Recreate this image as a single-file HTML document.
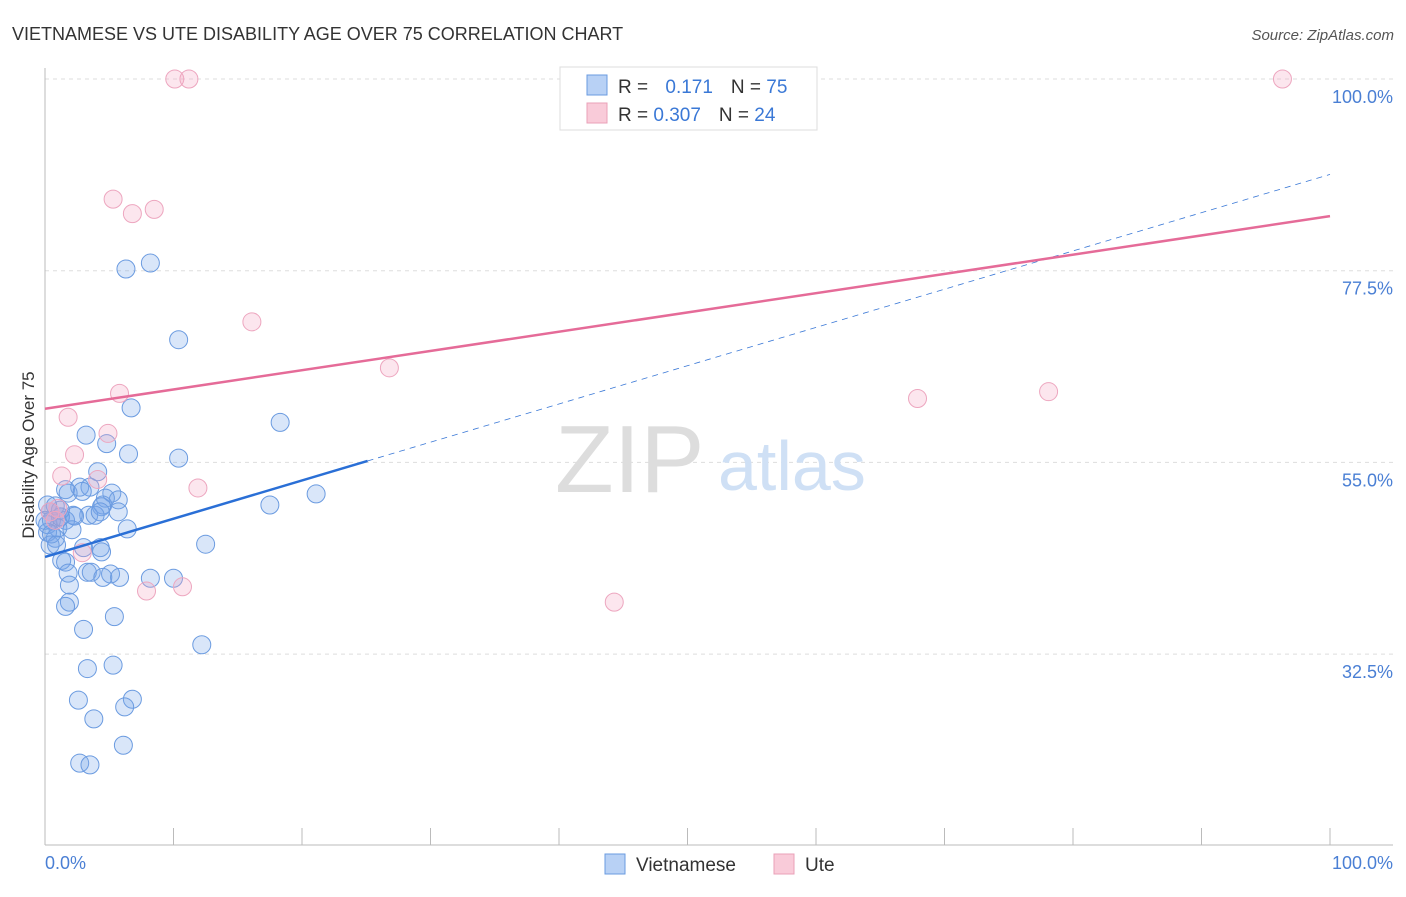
<!DOCTYPE html>
<html><head><meta charset="utf-8"><style>
body{margin:0;background:#fff;font-family:"Liberation Sans",sans-serif}
svg text{font-family:"Liberation Sans",sans-serif}
</style></head><body>
<svg width="1406" height="892">
<text x="12" y="40" font-size="18" fill="#333">VIETNAMESE VS UTE DISABILITY AGE OVER 75 CORRELATION CHART</text>
<text x="1394" y="40" font-size="15" fill="#555" font-style="italic" text-anchor="end">Source: ZipAtlas.com</text>
<g id="grid"></g>
<text x="555" y="492" font-size="96" fill="#ddd" font-family="Liberation Serif">ZIP</text>
<text x="718" y="490" font-size="70" fill="#cfe0f5">atlas</text>
<line x1="45" y1="68" x2="45" y2="845" stroke="#bbb"/>
<line x1="45" y1="845" x2="1393" y2="845" stroke="#bbb"/>
<text x="34" y="455" font-size="17" fill="#333" text-anchor="middle" transform="rotate(-90 34 455)">Disability Age Over 75</text>
<text x="45" y="869" font-size="18" fill="#4a7fd4">0.0%</text>
<text x="1393" y="869" font-size="18" fill="#4a7fd4" text-anchor="end">100.0%</text>
<g id="marks"></g>
<g>
<rect x="560" y="67" width="257" height="63" fill="#fff" stroke="#ddd"/>
<rect x="587" y="75" width="20" height="20" fill="#b8d1f5" stroke="#6a9be0"/>
<rect x="587" y="103" width="20" height="20" fill="#f9cbd9" stroke="#eaa0b8"/>
<text x="618" y="93" font-size="19" fill="#333">R = <tspan fill="#3a78d6" dx="12">0.171</tspan><tspan fill="#333" dx="18">N = </tspan><tspan fill="#3a78d6">75</tspan></text>
<text x="618" y="121" font-size="19" fill="#333">R = <tspan fill="#3a78d6">0.307</tspan><tspan fill="#333" dx="18">N = </tspan><tspan fill="#3a78d6">24</tspan></text>
</g>
<g>
<rect x="605" y="854" width="20" height="20" fill="#b8d1f5" stroke="#6a9be0"/>
<text x="636" y="871" font-size="19" fill="#333">Vietnamese</text>
<rect x="774" y="854" width="20" height="20" fill="#f9cbd9" stroke="#eaa0b8"/>
<text x="805" y="871" font-size="19" fill="#333">Ute</text>
</g>
</svg>
<script>
const yTicks=[100,77.5,55,32.5];
const yTickLabels=["100.0%","77.5%","55.0%","32.5%"];
const blueX=[6.3,8.2,10.4,6.7,3.2,4.8,6.5,10.4,18.3,4.1,21.1,17.5,1.6,2.7,3.5,5.2,5.7,4.5,1.8,2.9,4.7,4.4,5.7,3.4,3.9,2.2,6.4,0.8,0.4,1.2,1.6,0.2,0.5,1.0,0.2,0.8,0.4,2.1,3.0,4.3,4.4,12.5,1.3,1.6,3.3,3.6,5.1,4.5,5.8,1.8,8.2,10.0,1.9,1.9,1.6,5.4,3.0,12.2,3.3,5.3,2.6,6.8,6.2,3.8,6.1,2.7,3.5,1.2,0,0.5,2.3,1.2,0.2,0.9,4.3];
const blueY=[77.7,78.4,69.4,61.4,58.2,57.2,56.0,55.5,59.7,53.9,51.3,50.0,51.8,52.1,52.1,51.4,50.6,50.0,51.4,51.6,50.8,49.8,49.2,48.8,48.8,48.8,47.2,49.9,49.2,48.6,48.2,47.7,48.2,47.3,46.8,46.1,45.3,47.1,45.0,45.0,44.5,45.4,43.5,43.3,42.1,42.1,41.9,41.5,41.5,42.0,41.4,41.4,40.6,38.6,38.1,36.9,35.4,33.6,30.8,31.2,27.1,27.2,26.3,24.9,21.8,19.7,19.5,48.6,48.2,46.6,48.7,49.4,50.0,45.3,49.2];
const pinkX=[10.1,11.2,96.3,5.3,6.8,8.5,16.1,5.8,1.8,26.8,67.9,78.1,4.9,2.3,4.1,1.3,11.9,2.9,7.9,10.7,44.3,0.4,0.8,1.0];
const pinkY=[100,100,100,85.9,84.2,84.7,71.5,63.1,60.3,66.1,62.5,63.3,58.4,55.9,53.0,53.4,52.0,44.4,39.9,40.4,38.6,49.2,48.2,49.6];
const blueTrend=[43.9,88.8]; // y at x=0 and x=100
const blueSolidEnd=25.1;
const pinkTrend=[61.3,83.9];
const NS="http://www.w3.org/2000/svg";
const sx=v=>45+v*12.85, sy=v=>79+(100-v)*8.52;
function mk(t,a,p){const e=document.createElementNS(NS,t);for(const k in a)e.setAttribute(k,a[k]);p.appendChild(e);return e;}
const grid=document.getElementById('grid'),marks=document.getElementById('marks');
yTicks.forEach((t,i)=>{
 const l=mk('line',{x1:45,x2:1393,y1:sy(t),y2:sy(t),stroke:'#ddd','stroke-dasharray':'4,4'},grid);
 
 
 const tx=mk('text',{x:1393,y:sy(t)+24,'font-size':18,fill:'#4a7fd4','text-anchor':'end'},grid);
 tx.textContent=yTickLabels[i];
 
 
});
for(let i=0;i<=10;i++){
 const l=mk('line',{x1:sx(i*10),x2:sx(i*10),y1:828,y2:845,stroke:'#bbb'},grid);
 
 
}
blueX.forEach((x,i)=>{
 const c=mk('circle',{cx:sx(x),cy:sy(blueY[i]),r:9,fill:'rgba(120,165,235,0.28)',stroke:'#6b9be0','stroke-width':1},marks);
 
 
});
pinkX.forEach((x,i)=>{
 const c=mk('circle',{cx:sx(x),cy:sy(pinkY[i]),r:9,fill:'rgba(245,165,195,0.28)',stroke:'#eda6bf','stroke-width':1},marks);
 
 
});
const by=x=>blueTrend[0]+(blueTrend[1]-blueTrend[0])*x/100;
let l=mk('line',{x1:sx(blueSolidEnd),y1:sy(by(blueSolidEnd)),x2:sx(100),y2:sy(by(100)),stroke:'#3a78d6','stroke-width':0.8,'stroke-dasharray':'6,5'},marks);


l=mk('line',{x1:sx(0),y1:sy(by(0)),x2:sx(blueSolidEnd),y2:sy(by(blueSolidEnd)),stroke:'#2a6fd6','stroke-width':2.5},marks);


l=mk('line',{x1:sx(0),y1:sy(pinkTrend[0]),x2:sx(100),y2:sy(pinkTrend[1]),stroke:'#e56b98','stroke-width':2.5},marks);


</script>
</body></html>
